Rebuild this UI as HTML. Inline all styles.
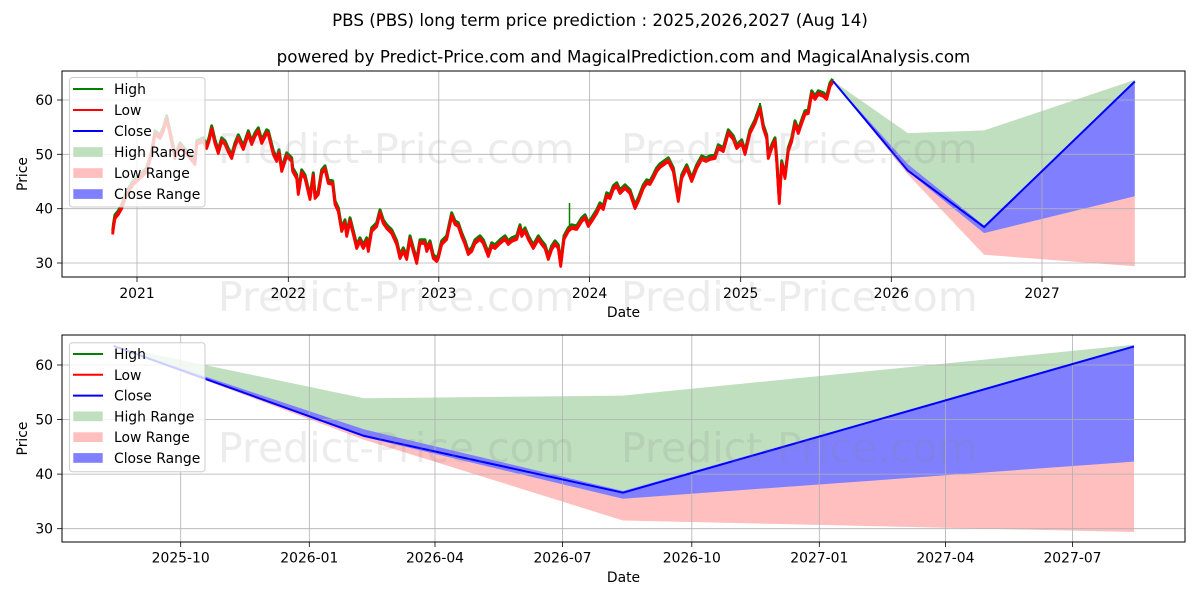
<!DOCTYPE html>
<html><head><meta charset="utf-8"><style>
html,body{margin:0;padding:0;background:#fff;}
svg{display:block;font-family:"DejaVu Sans","Liberation Sans",sans-serif;}
</style></head><body>
<svg width="1200" height="600" viewBox="0 0 1200 600" xmlns="http://www.w3.org/2000/svg">
<defs>
<polyline id="hp" fill="none" stroke-linejoin="round" points="112.7,233 113.5,226 115,217 118.3,213 121.7,207 126.7,193 133.3,183 140,177 146.7,170 151.7,153 155,133 160,137 163.3,130 166.7,118 170,133 175,157 180,145 186.7,153 195,163 196.7,143 203.3,140 206.7,147 209,140 211.7,128 215,142 218.3,152 221.7,140 225,143 228,150 231.7,157 235,145 238.3,137 243.3,148 248.3,133 251.7,143 255,135 258.3,130 261.7,142 266.7,132 268.3,133 273.3,153 276.7,160 279,152 281.7,170 286.7,155 291.7,160 292.7,170 296.7,177 298.3,193 301.7,172 305,177 310,198 313.3,175 315,197 318.3,193 321.7,172 325,168 328.3,182 332.7,183 335,203 338.3,210 341.7,230 345,222 346.7,235 350,220 353.3,233 356.7,247 360,240 363.3,247 366.7,240 368.3,250 371.7,230 376.7,225 380,212 383.3,222 386.7,227 391.7,232 396.7,243 400,257 403.3,250 406.7,258 410,238 413.3,250 416.7,262 420,242 425,242 426.7,250 430,243 433.3,257 436.7,260 438.3,257 441.7,243 446.7,238 451.7,215 455,223 458.3,225 461.7,235 465,243 468.3,253 471.7,250 475,242 480,238 483.3,242 488.3,255 491.7,245 495,247 500,242 505,238 508.3,243 511.7,240 516.7,238 520,227 521.7,235 525,230 528.3,238 533.3,247 538.3,238 541.7,243 545,247 548.3,258 551.7,248 555,243 558.3,247 560.7,265 564,238 568.3,230 571.7,227 576.7,228 581.7,220 585,217 588.3,225 591.7,220 596.7,212 600,205 603.3,208 606.7,195 610,197 613.3,188 616.7,185 620,192 625,187 630,192 635,207 638.3,200 643.3,187 646.7,182 650,183 653.3,177 656.7,170 660,166 668.3,160 673.3,170 678.3,200 681.7,177 686.7,167 691.7,180 696.7,167 701.7,158 706,160 710,158 715,157 718.3,147 723.3,150 728.3,132 733.3,138 736.7,147 741.7,142 745,153 750,132 755,122 760,108 763.3,127 766.7,137 768.3,157 771.7,147 775,140 776.7,160 779.3,202 781.7,163 785,177 788.3,150 791.7,140 795,123 798.3,132 801.7,122 805,113 808.3,112 811.7,93 815,98 818.3,93 823.3,95 826.7,98 830,85 832.7,81"/>
</defs>
<rect width="1200" height="600" fill="#fff"/>
<text x="600" y="26" font-size="16.7" text-anchor="middle" fill="#000">PBS (PBS) long term price prediction : 2025,2026,2027 (Aug 14)</text>
<text x="623.5" y="62.5" font-size="16.7" text-anchor="middle" fill="#000">powered by Predict-Price.com and MagicalPrediction.com and MagicalAnalysis.com</text>

<!-- ============ TOP AXES ============ -->
<g>
<polygon points="833,81 907.8,133.1 984.1,130.4 1134.8,79.9 1134.8,81.5 984.1,227.1 907.8,170.6 833,81.5" fill="#bfdfbf"/>
<polygon points="833,81 907.8,170.6 984.1,227.1 1134.8,196.2 1134.8,266.3 984.1,254.8 907.8,174.4 833,81" fill="#ffbfbf"/>
<polygon points="833,81 907.8,164.1 984.1,225.5 1134.8,81.5 1134.8,196.2 984.1,233.1 907.8,171.5 833,81" fill="#8080ff"/>
<g stroke="#b0b0b0" stroke-width="0.8">
<line x1="137" y1="71" x2="137" y2="277"/>
<line x1="288.3" y1="71" x2="288.3" y2="277"/>
<line x1="438.8" y1="71" x2="438.8" y2="277"/>
<line x1="589.5" y1="71" x2="589.5" y2="277"/>
<line x1="740.7" y1="71" x2="740.7" y2="277"/>
<line x1="891.3" y1="71" x2="891.3" y2="277"/>
<line x1="1042" y1="71" x2="1042" y2="277"/>
<line x1="62" y1="100" x2="1185" y2="100"/>
<line x1="62" y1="154.3" x2="1185" y2="154.3"/>
<line x1="62" y1="208.7" x2="1185" y2="208.7"/>
<line x1="62" y1="263" x2="1185" y2="263"/>
</g>
<use href="#hp" transform="translate(0,-2.2)" stroke="#008000" stroke-width="3"/>
<line x1="569.5" y1="228" x2="569.5" y2="203" stroke="#008000" stroke-width="1.5"/>
<line x1="760" y1="108" x2="760" y2="103" stroke="#008000" stroke-width="2"/>
<use href="#hp" stroke="#ff0000" stroke-width="2.8"/>
<use href="#hp" transform="translate(0,1.5)" stroke="#ff0000" stroke-width="2.8"/>
<polyline fill="none" stroke="#0000ff" stroke-width="2" stroke-linejoin="round" points="833,81 907.8,170.6 984.1,227.1 1134.8,81.5"/>
<g font-size="41" fill="#808080" fill-opacity="0.15">
<text x="218" y="163">Predict-Price.com</text>
<text x="621" y="163">Predict-Price.com</text>
<text x="218" y="311">Predict-Price.com</text>
<text x="621" y="311">Predict-Price.com</text>
</g>
<rect x="62" y="71" width="1123" height="206" fill="none" stroke="#000" stroke-width="1"/>
<g stroke="#000" stroke-width="0.8">
<line x1="137" y1="277" x2="137" y2="282"/>
<line x1="288.3" y1="277" x2="288.3" y2="282"/>
<line x1="438.8" y1="277" x2="438.8" y2="282"/>
<line x1="589.5" y1="277" x2="589.5" y2="282"/>
<line x1="740.7" y1="277" x2="740.7" y2="282"/>
<line x1="891.3" y1="277" x2="891.3" y2="282"/>
<line x1="1042" y1="277" x2="1042" y2="282"/>
<line x1="57" y1="100" x2="62" y2="100"/>
<line x1="57" y1="154.3" x2="62" y2="154.3"/>
<line x1="57" y1="208.7" x2="62" y2="208.7"/>
<line x1="57" y1="263" x2="62" y2="263"/>
</g>
<g font-size="13.9" fill="#000" text-anchor="middle">
<text x="137" y="298">2021</text>
<text x="288.3" y="298">2022</text>
<text x="438.8" y="298">2023</text>
<text x="589.5" y="298">2024</text>
<text x="740.7" y="298">2025</text>
<text x="891.3" y="298">2026</text>
<text x="1042" y="298">2027</text>
<text x="623.5" y="317">Date</text>
</g>
<g font-size="13.9" fill="#000" text-anchor="end">
<text x="53" y="105">60</text>
<text x="53" y="159.3">50</text>
<text x="53" y="213.7">40</text>
<text x="53" y="268">30</text>
</g>
<text transform="translate(27,174) rotate(-90)" font-size="13.9" text-anchor="middle" fill="#000">Price</text>
<rect x="69.5" y="77.5" width="135.5" height="129.5" rx="3" fill="#fff" fill-opacity="0.8" stroke="#cccccc" stroke-width="1"/>
<line x1="73" y1="89" x2="103" y2="89" stroke="#008000" stroke-width="2"/>
<line x1="73" y1="110" x2="103" y2="110" stroke="#ff0000" stroke-width="2"/>
<line x1="73" y1="131" x2="103" y2="131" stroke="#0000ff" stroke-width="2"/>
<rect x="73.3" y="147.2" width="29.4" height="9.7" fill="#bfdfbf"/>
<rect x="73.3" y="168.2" width="29.4" height="9.7" fill="#ffbfbf"/>
<rect x="73.3" y="189.2" width="29.4" height="9.7" fill="#8080ff"/>
<g font-size="13.9" fill="#000">
<text x="114" y="94">High</text>
<text x="114" y="115">Low</text>
<text x="114" y="136">Close</text>
<text x="114" y="157">High Range</text>
<text x="114" y="178">Low Range</text>
<text x="114" y="199">Close Range</text>
</g>
</g>

<!-- ============ BOTTOM AXES ============ -->
<g>
<polygon points="113.5,345.9 364,398.3 623,395.6 1134,344.8 1134,346.4 623,492.7 364,435.9 113.5,346.4" fill="#bfdfbf"/>
<polygon points="113.5,345.9 364,435.9 623,492.7 1134,461.6 1134,532 623,520.5 364,439.7 113.5,345.9" fill="#ffbfbf"/>
<polygon points="113.5,345.9 364,429.4 623,491 1134,346.4 1134,461.6 623,498.7 364,437 113.5,345.9" fill="#8080ff"/>
<g stroke="#b0b0b0" stroke-width="0.8">
<line x1="180.7" y1="335" x2="180.7" y2="542"/>
<line x1="309.3" y1="335" x2="309.3" y2="542"/>
<line x1="435" y1="335" x2="435" y2="542"/>
<line x1="562.5" y1="335" x2="562.5" y2="542"/>
<line x1="691.8" y1="335" x2="691.8" y2="542"/>
<line x1="819.3" y1="335" x2="819.3" y2="542"/>
<line x1="945.4" y1="335" x2="945.4" y2="542"/>
<line x1="1072.5" y1="335" x2="1072.5" y2="542"/>
<line x1="62" y1="365" x2="1185" y2="365"/>
<line x1="62" y1="419.6" x2="1185" y2="419.6"/>
<line x1="62" y1="474.1" x2="1185" y2="474.1"/>
<line x1="62" y1="528.7" x2="1185" y2="528.7"/>
</g>
<polyline fill="none" stroke="#0000ff" stroke-width="2" stroke-linejoin="round" points="113.5,345.9 364,435.9 623,492.7 1134,346.4"/>
<g font-size="41" fill="#808080" fill-opacity="0.15">
<text x="218" y="462">Predict-Price.com</text>
<text x="621" y="462">Predict-Price.com</text>
</g>
<rect x="62" y="335" width="1123" height="207" fill="none" stroke="#000" stroke-width="1"/>
<g stroke="#000" stroke-width="0.8">
<line x1="180.7" y1="542" x2="180.7" y2="547"/>
<line x1="309.3" y1="542" x2="309.3" y2="547"/>
<line x1="435" y1="542" x2="435" y2="547"/>
<line x1="562.5" y1="542" x2="562.5" y2="547"/>
<line x1="691.8" y1="542" x2="691.8" y2="547"/>
<line x1="819.3" y1="542" x2="819.3" y2="547"/>
<line x1="945.4" y1="542" x2="945.4" y2="547"/>
<line x1="1072.5" y1="542" x2="1072.5" y2="547"/>
<line x1="57" y1="365" x2="62" y2="365"/>
<line x1="57" y1="419.6" x2="62" y2="419.6"/>
<line x1="57" y1="474.1" x2="62" y2="474.1"/>
<line x1="57" y1="528.7" x2="62" y2="528.7"/>
</g>
<g font-size="13.9" fill="#000" text-anchor="middle">
<text x="180.7" y="562.5">2025-10</text>
<text x="309.3" y="562.5">2026-01</text>
<text x="435" y="562.5">2026-04</text>
<text x="562.5" y="562.5">2026-07</text>
<text x="691.8" y="562.5">2026-10</text>
<text x="819.3" y="562.5">2027-01</text>
<text x="945.4" y="562.5">2027-04</text>
<text x="1072.5" y="562.5">2027-07</text>
<text x="623.5" y="582">Date</text>
</g>
<g font-size="13.9" fill="#000" text-anchor="end">
<text x="53" y="370">60</text>
<text x="53" y="424.6">50</text>
<text x="53" y="479.1">40</text>
<text x="53" y="533.7">30</text>
</g>
<text transform="translate(27,438.5) rotate(-90)" font-size="13.9" text-anchor="middle" fill="#000">Price</text>
<rect x="69.5" y="342.7" width="135.5" height="129" rx="3" fill="#fff" fill-opacity="0.8" stroke="#cccccc" stroke-width="1"/>
<line x1="73" y1="354" x2="103" y2="354" stroke="#008000" stroke-width="2"/>
<line x1="73" y1="374.8" x2="103" y2="374.8" stroke="#ff0000" stroke-width="2"/>
<line x1="73" y1="395.6" x2="103" y2="395.6" stroke="#0000ff" stroke-width="2"/>
<rect x="73.3" y="411.5" width="29.4" height="9.7" fill="#bfdfbf"/>
<rect x="73.3" y="432.3" width="29.4" height="9.7" fill="#ffbfbf"/>
<rect x="73.3" y="453.1" width="29.4" height="9.7" fill="#8080ff"/>
<g font-size="13.9" fill="#000">
<text x="114" y="359">High</text>
<text x="114" y="379.8">Low</text>
<text x="114" y="400.6">Close</text>
<text x="114" y="421.4">High Range</text>
<text x="114" y="442.2">Low Range</text>
<text x="114" y="463">Close Range</text>
</g>
</g>
</svg>
</body></html>
